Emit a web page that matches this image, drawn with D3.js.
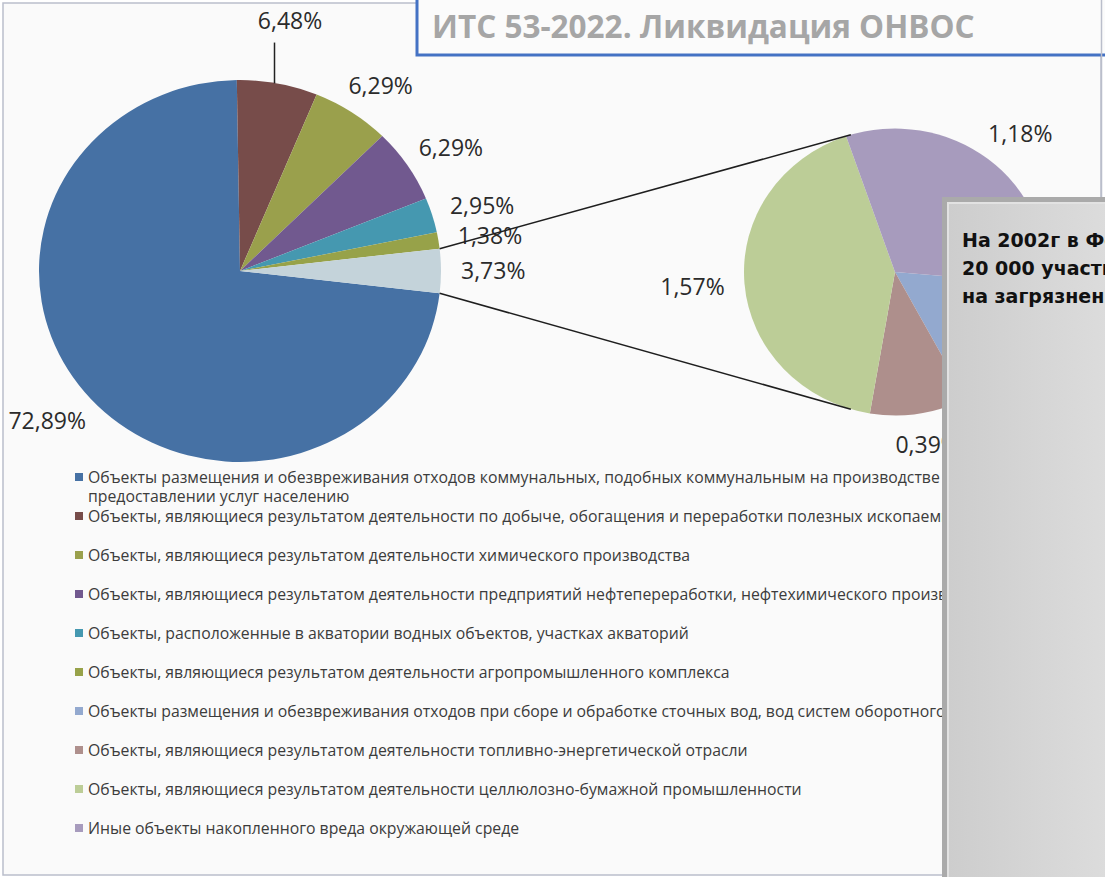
<!DOCTYPE html>
<html>
<head>
<meta charset="utf-8">
<script src="https://cdn.jsdelivr.net/npm/d3@7"></script>
<style>
body { margin: 0; background: #fff; }
svg { display: block; }
</style>
</head>
<body>
<svg id="chart" width="1105" height="877"></svg>
<script>
var categories = [
  "Объекты размещения и обезвреживания отходов коммунальных, подобных коммунальным на производстве и при\nпредоставлении услуг населению",
  "Объекты, являющиеся результатом деятельности по добыче, обогащения и переработки полезных ископаемых",
  "Объекты, являющиеся результатом деятельности химического производства",
  "Объекты, являющиеся результатом деятельности предприятий нефтепереработки, нефтехимического производства",
  "Объекты, расположенные в акватории водных объектов, участках акваторий",
  "Объекты, являющиеся результатом деятельности агропромышленного комплекса",
  "Объекты размещения и обезвреживания отходов при сборе и обработке сточных вод, вод систем оборотного водоснабжения",
  "Объекты, являющиеся результатом деятельности топливно-энергетической отрасли",
  "Объекты, являющиеся результатом деятельности целлюлозно-бумажной промышленности",
  "Иные объекты накопленного вреда окружающей среде"
];
var shares = [72.89, 6.48, 6.29, 6.29, 2.95, 1.38, 0.59, 0.39, 1.57, 1.18];
var colors = ["#4671a4", "#774c4a", "#9aa04c", "#71598f", "#4598b0", "#97a249",
              "#93a9cf", "#ae8f8c", "#bccd97", "#a79bbd"];
var otherColor = "#c4d3da";
var splitCount = 4;   // last entries go to the second pie

var titleText = "ИТС 53-2022. Ликвидация ОНВОС";
var noteLines = ["На 2002г в Федерации выявлено", "20 000 участков,", "на загрязненных территориях"];

var svg = d3.select("#chart");
var sy = 0.95; // picture is a little squashed vertically

var fmt = d3.formatLocale({decimal: ",", thousands: "\u00a0", grouping: [3], currency: ["", ""]}).format(".2f");

function pt(cx, cy, r, a) {
  return [cx + r * Math.sin(a), cy - r * Math.cos(a) * sy];
}

// background + chart border
svg.append("rect").attr("x", 3).attr("y", 3).attr("width", 1098).attr("height", 872)
  .attr("fill", "#fafafa").attr("stroke", "#babecb").attr("stroke-width", 1.5);

// main pie
var cx1 = 240, cy1 = 271, r1 = 201;
var mainVals = shares.slice(0, shares.length - splitCount);
var rest = shares.slice(shares.length - splitCount);
var otherSum = d3.sum(rest);
mainVals.push(otherSum);
var mainColors = colors.slice(0, shares.length - splitCount).concat([otherColor]);
var otherAng = 2 * Math.PI * otherSum / d3.sum(mainVals);
var start1 = Math.PI / 2 + otherAng / 2 - 2 * Math.PI;

var arcs1 = d3.pie().sort(null).startAngle(start1).endAngle(start1 + 2 * Math.PI)(mainVals);
var arc1 = d3.arc().innerRadius(0).outerRadius(r1);

svg.append("g")
  .attr("transform", "translate(" + cx1 + "," + cy1 + ") scale(1," + sy + ")")
  .selectAll("path").data(arcs1).enter()
  .append("path")
  .attr("d", arc1)
  .attr("fill", function(d, i) { return mainColors[i]; });

// second pie
var cx2 = 895, cy2 = 272, r2 = 151;
var start2 = 95 * Math.PI / 180;
var arcs2 = d3.pie().sort(null).startAngle(start2).endAngle(start2 + 2 * Math.PI)(rest);
var arc2 = d3.arc().innerRadius(0).outerRadius(r2);
var restColors = colors.slice(shares.length - splitCount);

svg.append("g")
  .attr("transform", "translate(" + cx2 + "," + cy2 + ") scale(1," + sy + ")")
  .selectAll("path").data(arcs2).enter()
  .append("path")
  .attr("d", arc2)
  .attr("fill", function(d, i) { return restColors[i]; });

// labels, placed outside the end of each slice
var leaderSlices = [1];
var labelFont = "'Open Sans', 'DejaVu Sans', sans-serif";
var labelGap = 20, labelH = 26;

function outsideLabel(cx, cy, r, d) {
  var mid = (d.startAngle + d.endAngle) / 2;
  var t = svg.append("text")
    .attr("dy", "0.36em")
    .attr("text-anchor", "middle")
    .attr("font-family", labelFont).attr("font-size", 23)
    .attr("fill", "#2b2b2b")
    .text(fmt(d.value) + "%");
  var w = t.node().getComputedTextLength();
  var a = pt(cx, cy, r + labelGap, mid);
  t.attr("x", a[0] + w / 2 * Math.sin(mid))
   .attr("y", a[1] - labelH / 2 * Math.cos(mid));
}

arcs1.forEach(function(d, i) {
  if (leaderSlices.indexOf(i) >= 0) {
    var mid = (d.startAngle + d.endAngle) / 2;
    var p = pt(cx1, cy1, r1 * 1.335, mid);
    svg.append("text")
      .attr("x", p[0]).attr("y", p[1]).attr("dy", "0.36em")
      .attr("text-anchor", "middle")
      .attr("font-family", labelFont).attr("font-size", 23)
      .attr("fill", "#2b2b2b")
      .text(fmt(d.value) + "%");
    var e = pt(cx1, cy1, r1, mid);
    svg.append("line")
      .attr("x1", e[0] - 3).attr("y1", e[1])
      .attr("x2", e[0] - 3).attr("y2", p[1] + 22)
      .attr("stroke", "#222").attr("stroke-width", 1.5);
  } else {
    outsideLabel(cx1, cy1, r1, d);
  }
});

arcs2.forEach(function(d) { outsideLabel(cx2, cy2, r2, d); });

// connector lines between the pies
var connA = 17 * Math.PI / 180;
var oth = arcs1[arcs1.length - 1];
var a1 = pt(cx1, cy1, r1, oth.startAngle), b1 = pt(cx2, cy2, r2, -connA);
var a2 = pt(cx1, cy1, r1, oth.endAngle), b2 = pt(cx2, cy2, r2, Math.PI + connA);
[[a1, b1], [a2, b2]].forEach(function(l) {
  svg.append("line")
    .attr("x1", l[0][0]).attr("y1", l[0][1])
    .attr("x2", l[1][0]).attr("y2", l[1][1])
    .attr("stroke", "#1e1e1e").attr("stroke-width", 1.5);
});

// legend
var lg = svg.append("g");
categories.forEach(function(c, i) {
  var y = 477 + i * 39;
  lg.append("rect").attr("x", 75).attr("y", y - 4).attr("width", 8).attr("height", 8)
    .attr("fill", colors[i]);
  var t = lg.append("text")
    .attr("x", 88).attr("y", y)
    .attr("font-family", labelFont).attr("font-size", 15.8)
    .attr("fill", "#3c3c3c");
  c.split("\n").forEach(function(line, k) {
    t.append("tspan").attr("x", 88).attr("dy", k === 0 ? "0.35em" : 19).text(line);
  });
});

// title box
svg.append("rect").attr("x", 417).attr("y", -10).attr("width", 760).attr("height", 65)
  .attr("fill", "#fbfbfb").attr("stroke", "#4472c4").attr("stroke-width", 3);
svg.append("text").attr("x", 432).attr("y", 38)
  .attr("font-family", labelFont).attr("font-weight", "bold").attr("font-size", 31.5)
  .attr("fill", "#a6a6a6")
  .text(titleText);
svg.append("line").attr("x1", 1101.5).attr("y1", 0).attr("x2", 1101.5).attr("y2", 200)
  .attr("stroke", "#babecb").attr("stroke-width", 1.5);

// note box on top
var grad = svg.append("defs").append("linearGradient").attr("id", "noteFill")
  .attr("x1", "0%").attr("x2", "100%").attr("y1", "0%").attr("y2", "0%");
grad.append("stop").attr("offset", "0%").attr("stop-color", "#cdcdcd");
grad.append("stop").attr("offset", "100%").attr("stop-color", "#e0e0e0");

svg.append("rect").attr("x", 942).attr("y", 197).attr("width", 200).attr("height", 700)
  .attr("fill", "#aaaaaa");
svg.append("rect").attr("x", 947).attr("y", 202).attr("width", 200).attr("height", 700)
  .attr("fill", "#e2e2e2");
svg.append("rect").attr("x", 949).attr("y", 204).attr("width", 200).attr("height", 700)
  .attr("fill", "url(#noteFill)");

svg.append("g").selectAll("text").data(noteLines).enter()
  .append("text")
  .attr("x", 962).attr("y", function(d, i) { return 247 + i * 28; })
  .attr("font-family", "'DejaVu Sans', sans-serif").attr("font-weight", "bold").attr("font-size", 19)
  .attr("fill", "#111")
  .text(function(d) { return d; });
</script>
</body>
</html>
